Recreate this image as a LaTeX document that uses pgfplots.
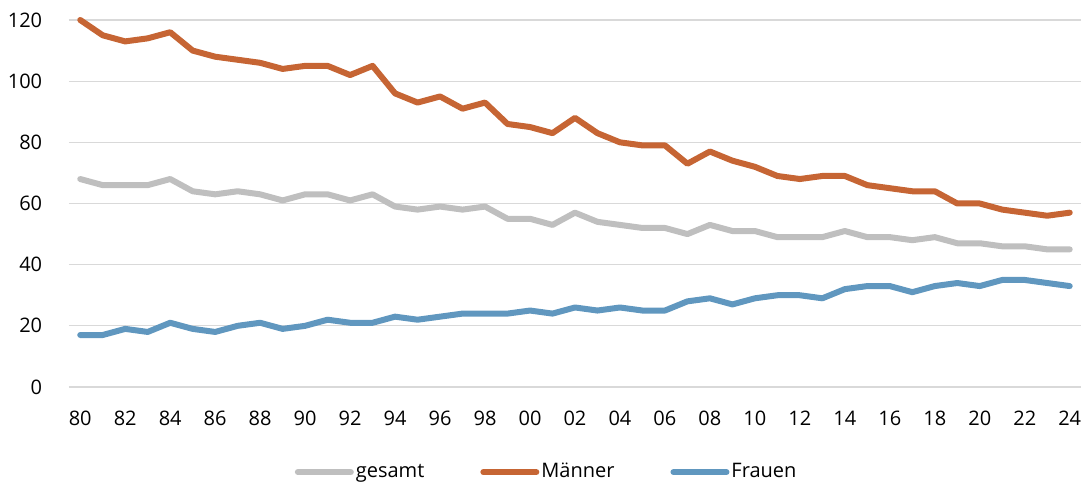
\documentclass[border=0pt]{standalone}
\usepackage{pgfplots}
\pgfplotsset{compat=1.18}
\usepackage{pgfplotstable}
\usepackage{fontspec}
\setmainfont{Open Sans}
\definecolor{cgray}{RGB}{191,191,191}
\definecolor{corange}{RGB}{198,101,52}
\definecolor{cblue}{RGB}{96,151,191}
\definecolor{cgrid}{RGB}{217,217,217}
\pgfplotstableread{
year gesamt maenner frauen
1980 68 120 17
1981 66 115 17
1982 66 113 19
1983 66 114 18
1984 68 116 21
1985 64 110 19
1986 63 108 18
1987 64 107 20
1988 63 106 21
1989 61 104 19
1990 63 105 20
1991 63 105 22
1992 61 102 21
1993 63 105 21
1994 59 96 23
1995 58 93 22
1996 59 95 23
1997 58 91 24
1998 59 93 24
1999 55 86 24
2000 55 85 25
2001 53 83 24
2002 57 88 26
2003 54 83 25
2004 53 80 26
2005 52 79 25
2006 52 79 25
2007 50 73 28
2008 53 77 29
2009 51 74 27
2010 51 72 29
2011 49 69 30
2012 49 68 30
2013 49 69 29
2014 51 69 32
2015 49 66 33
2016 49 65 33
2017 48 64 31
2018 49 64 33
2019 47 60 34
2020 47 60 33
2021 46 58 35
2022 46 57 35
2023 45 56 34
2024 45 57 33
}\data
\begin{document}
\fontsize{20pt}{24pt}\selectfont
\begin{tikzpicture}
\path[use as bounding box] (0,0) rectangle (1085pt,487pt);
\begin{axis}[
  at={(69pt,100pt)}, anchor=south west,
  scale only axis, width=1012pt, height=367pt,
  xmin=1979.5, xmax=2024.5, ymin=0, ymax=120,
  xtick={1980,1982,...,2024},
  xticklabels={80,82,84,86,88,90,92,94,96,98,00,02,04,06,08,10,12,14,16,18,20,22,24},
  ytick={0,20,...,120},
  axis line style={draw=none},
  major tick length=0pt,
  tick style={draw=none},
  ymajorgrids, grid style={cgrid, line width=1.3pt},
  ticklabel style={font=\fontsize{20pt}{24pt}\selectfont},
  /pgf/number format/assume math mode=true,
  yticklabel shift=20pt,
  xticklabel shift=17pt,
  clip=false,
  legend columns=3,
  legend style={draw=none, fill=none, at={(0.472,-0.232)}, anchor=center,
    font=\fontsize{20pt}{24pt}\selectfont,
    /tikz/every even column/.append style={column sep=54pt},
    nodes={inner sep=2pt}},
  legend image code/.code={\draw[#1, line width=6pt, line cap=round] (0pt,0pt) -- (53pt,0pt);},
  every axis plot/.append style={line width=6pt, line join=round, line cap=round, no markers},
]
\addplot[cgray] table[x=year, y=gesamt] {\data};
\addlegendentry{gesamt}
\addplot[corange] table[x=year, y=maenner] {\data};
\addlegendentry{Männer}
\addplot[cblue] table[x=year, y=frauen] {\data};
\addlegendentry{Frauen}
\end{axis}
\end{tikzpicture}
\end{document}
